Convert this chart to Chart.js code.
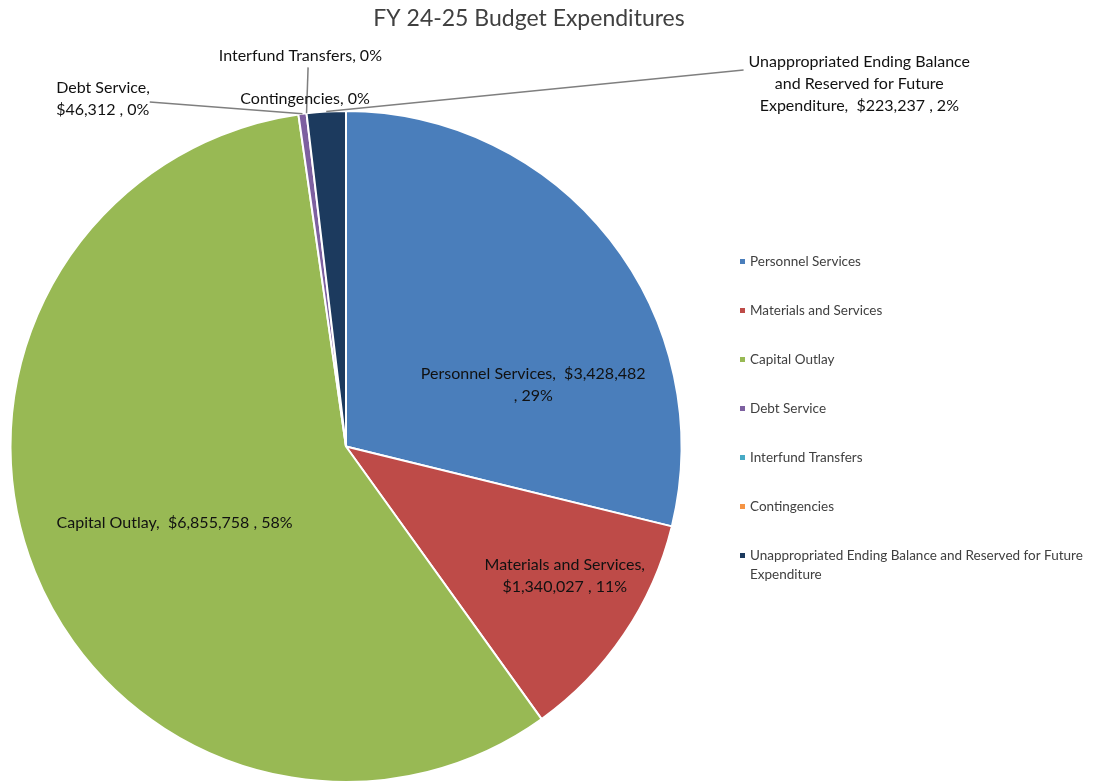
<!DOCTYPE html>
<html>
<head>
<meta charset="utf-8">
<script src="https://cdn.jsdelivr.net/npm/chart.js@4/dist/chart.umd.min.js"></script>
<style>
  html, body { margin: 0; padding: 0; background: #fff; }
  #wrap { width: 1097px; height: 783px; position: relative; }
</style>
</head>
<body>
<div id="wrap"><canvas id="myChart"></canvas></div>
<script>
var chartTitle = "FY 24-25 Budget Expenditures";
var categories = ["Personnel Services", "Materials and Services", "Capital Outlay",
                  "Debt Service", "Interfund Transfers", "Contingencies",
                  "Unappropriated Ending Balance and Reserved for Future Expenditure"];
var amounts = [3428482, 1340027, 6855758, 46312, 0, 0, 223237];
var sliceColors = ["#4a7ebb", "#be4b48", "#98b954", "#7d60a0", "#46aac5", "#f59444", "#1c3a5e"];

var FONT = "Lato, 'Open Sans', sans-serif";

function money(v) {
  return "$" + v.toLocaleString("en-US");
}
function pct(v, total) {
  return Math.round(v / total * 100) + "%";
}

// label layout: lines builder + where to put it (offset from pie center in radius units)
var labelLayout = [
  { dx: 0.558, dy: -0.185, align: "center", build: function (n, v, p) { return [n + ",  " + money(v), ", " + p]; } },
  { dx: 0.652, dy: 0.387, align: "center", build: function (n, v, p) { return [n + ",", money(v) + " , " + p]; } },
  { dx: -0.511, dy: 0.229, align: "center", build: function (n, v, p) { return [n + ",  " + money(v) + " , " + p]; } },
  { dx: -0.864, dy: -1.037, align: "left", lineFrom: [-0.585, -1.027], build: function (n, v, p) { return [n + ",", money(v) + " , " + p]; } },
  { dx: -0.136, dy: -1.163, align: "center", lineFrom: [-0.113, -1.13], build: function (n, v, p) { return [n + ", " + p]; } },
  { dx: -0.122, dy: -1.035, align: "center", build: function (n, v, p) { return [n + ", " + p]; } },
  { dx: 1.53, dy: -1.081, align: "center", lineFrom: [1.185, -1.122], build: function (n, v, p) {
      return ["Unappropriated Ending Balance", "and Reserved for Future", "Expenditure,  " + money(v) + " , " + p]; } }
];

var labelPlugin = {
  id: "pieLabels",
  afterDraw: function (chart) {
    var ctx = chart.ctx;
    var meta = chart.getDatasetMeta(0);
    var data = chart.data.datasets[0].data;
    var total = data.reduce(function (a, b) { return a + b; }, 0);

    // title
    ctx.save();
    ctx.fillStyle = "#404040";
    ctx.font = "23px " + FONT;
    ctx.textAlign = "center";
    ctx.textBaseline = "middle";
    ctx.fillText(chartTitle, 529, 19);
    ctx.restore();

    meta.data.forEach(function (arc, i) {
      var cx = arc.x, cy = arc.y, R = arc.outerRadius;
      var lay = labelLayout[i];
      var lines = lay.build(chart.data.labels[i], data[i], pct(data[i], total));
      var lx = cx + lay.dx * R, ly = cy + lay.dy * R;
      var lh = 22;

      if (lay.lineFrom) {
        var mid = (arc.startAngle + arc.endAngle) / 2;
        var ex = cx + Math.cos(mid) * R, ey = cy + Math.sin(mid) * R;
        ctx.save();
        ctx.strokeStyle = "#7f7f7f";
        ctx.lineWidth = 1.5;
        ctx.beginPath();
        ctx.moveTo(cx + lay.lineFrom[0] * R, cy + lay.lineFrom[1] * R);
        ctx.lineTo(ex, ey);
        ctx.stroke();
        ctx.restore();
      }

      ctx.save();
      ctx.fillStyle = "#111111";
      ctx.font = "16px " + FONT;
      ctx.textAlign = lay.align;
      ctx.textBaseline = "middle";
      var y0 = ly - (lines.length - 1) * lh / 2;
      lines.forEach(function (t, k) {
        ctx.fillText(t, lx, y0 + k * lh);
      });
      ctx.restore();
    });

    // legend on the right
    ctx.save();
    ctx.font = "13.5px " + FONT;
    ctx.textAlign = "left";
    ctx.textBaseline = "middle";
    chart.data.labels.forEach(function (name, i) {
      var y = 262 + i * 49;
      ctx.fillStyle = sliceColors[i];
      ctx.fillRect(740, y - 3, 5, 5);
      ctx.fillStyle = "#404040";
      if (name.length > 60) {
        ctx.fillText("Unappropriated Ending Balance and Reserved for Future", 750, y);
        ctx.fillText("Expenditure", 750, y + 19);
      } else {
        ctx.fillText(name, 750, y);
      }
    });
    ctx.restore();
  }
};

function createChart() {
  var ctx = document.getElementById("myChart").getContext("2d");
  return new Chart(ctx, {
    type: "pie",
    data: {
      labels: categories,
      datasets: [{
        data: amounts,
        backgroundColor: sliceColors,
        borderColor: "#ffffff",
        borderWidth: 2
      }]
    },
    options: {
      responsive: true,
      maintainAspectRatio: false,
      animation: false,
      layout: { padding: { top: 110, left: 9, right: 414, bottom: 0 } },
      plugins: {
        legend: { display: false },
        title: { display: false },
        tooltip: { enabled: false }
      }
    },
    plugins: [labelPlugin]
  });
}

createChart();
</script>
</body>
</html>
